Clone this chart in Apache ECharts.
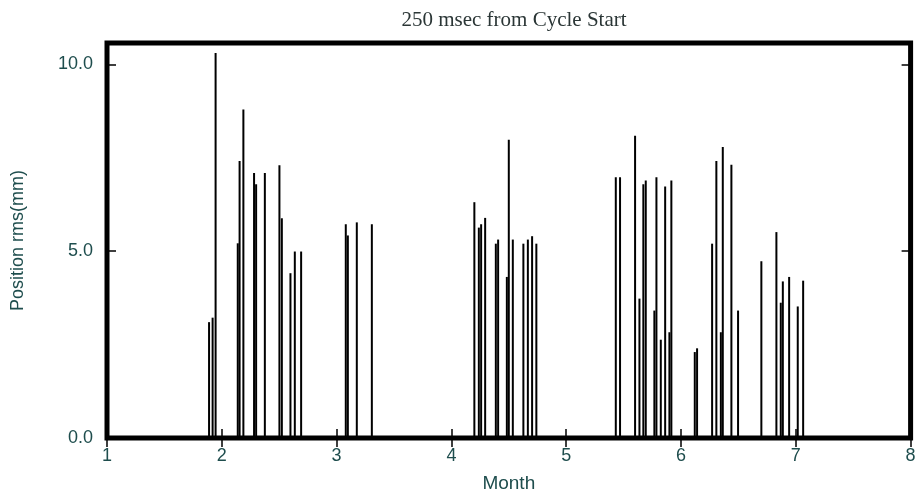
<!DOCTYPE html>
<html>
<head>
<meta charset="utf-8">
<script src="https://cdn.jsdelivr.net/npm/echarts@6/dist/echarts.min.js"></script>
<style>
  html, body { margin: 0; padding: 0; background: #fff; }
  #main { width: 917px; height: 497px; }
</style>
</head>
<body>
<div id="main"></div>
<script>
// month position of each measurement (fractional month)
var monthPos = [
  1.889, 1.920, 1.946, 2.139, 2.155, 2.188, 2.281, 2.299, 2.375, 2.502,
  2.523, 2.598, 2.636, 2.691,
  3.080, 3.098, 3.176, 3.307,
  4.200, 4.239, 4.259, 4.294, 4.387, 4.407, 4.483, 4.500, 4.535, 4.627,
  4.666, 4.703, 4.740,
  5.432, 5.469, 5.600, 5.638, 5.672, 5.693, 5.768, 5.786, 5.824, 5.862,
  5.899, 5.916,
  6.120, 6.140, 6.271, 6.308, 6.347, 6.364, 6.439, 6.497, 6.700, 6.831,
  6.869, 6.887, 6.942,
  7.017, 7.064
];
// position rms in mm
var rmsMm = [
  3.10, 3.22, 10.30, 5.21, 7.41, 8.79, 7.09, 6.79, 7.09, 7.30,
  5.88, 4.41, 4.99, 4.99,
  5.72, 5.42, 5.77, 5.72,
  6.31, 5.63, 5.72, 5.89, 5.20, 5.31, 4.31, 7.98, 5.31, 5.20,
  5.31, 5.40, 5.20,
  6.98, 6.98, 8.09, 3.73, 6.79, 6.89, 3.41, 6.98, 2.63, 6.73,
  2.83, 6.89,
  2.30, 2.40, 5.20, 7.41, 2.83, 7.79, 7.31, 3.41, 4.73, 5.51,
  3.62, 4.19, 4.31,
  3.52, 4.21
];
var yTicks = [0, 5, 10];

var barData = monthPos.map(function (m, i) { return [m, rmsMm[i]]; });

var labelColor = '#1e4d4d';
var myChart = echarts.init(document.getElementById('main'));
myChart.setOption({
  animation: false,
  title: {
    text: '250 msec from Cycle Start',
    left: 509,
    textAlign: 'center',
    top: 5,
    textStyle: {
      fontFamily: 'Liberation Serif',
      fontWeight: 'normal',
      fontSize: 21,
      color: '#2b3636'
    }
  },
  grid: {
    left: 107,
    top: 43,
    width: 803.6,
    height: 395,
    outerBoundsMode: 'none',
    containLabel: false,
    show: true,
    borderColor: '#000',
    borderWidth: 5,
    backgroundColor: '#fff'
  },
  xAxis: [{
    type: 'value',
    min: 1,
    max: 8,
    interval: 1,
    name: 'Month',
    nameLocation: 'middle',
    nameGap: 36,
    nameTextStyle: { fontFamily: 'Liberation Sans', fontSize: 19, color: labelColor },
    axisLine: { show: false },
    axisTick: { inside: true, length: 9, lineStyle: { color: '#000', width: 1.5 } },
    splitLine: { show: false },
    axisLabel: { margin: 9, fontFamily: 'Liberation Sans', fontSize: 18, color: labelColor }
  }, {
    type: 'value',
    position: 'top',
    min: 1,
    max: 8,
    interval: 1,
    axisLine: { show: false },
    axisTick: { inside: true, length: 9, lineStyle: { color: '#000', width: 1.5 } },
    splitLine: { show: false },
    axisLabel: { show: false }
  }],
  yAxis: [{
    type: 'value',
    min: 0,
    max: 10.57,
    interval: 5,
    name: 'Position rms(mm)',
    nameLocation: 'middle',
    nameGap: 80,
    nameTextStyle: { fontFamily: 'Liberation Sans', fontSize: 18, color: labelColor },
    axisLine: { show: false },
    axisTick: { inside: true, length: 9, lineStyle: { color: '#000', width: 1.5 } },
    splitLine: { show: false },
    axisLabel: {
      margin: 14,
      fontFamily: 'Liberation Sans',
      fontSize: 18,
      color: labelColor,
      formatter: function (v) { return yTicks.indexOf(v) >= 0 ? v.toFixed(1) : ''; }
    }
  }, {
    type: 'value',
    position: 'right',
    min: 0,
    max: 10.57,
    interval: 5,
    axisLine: { show: false },
    axisTick: { inside: true, length: 9, lineStyle: { color: '#000', width: 1.5 } },
    splitLine: { show: false },
    axisLabel: { show: false }
  }],
  series: [{
    type: 'bar',
    data: barData,
    barWidth: 2,
    itemStyle: { color: '#000' }
  }]
});
</script>
</body>
</html>
